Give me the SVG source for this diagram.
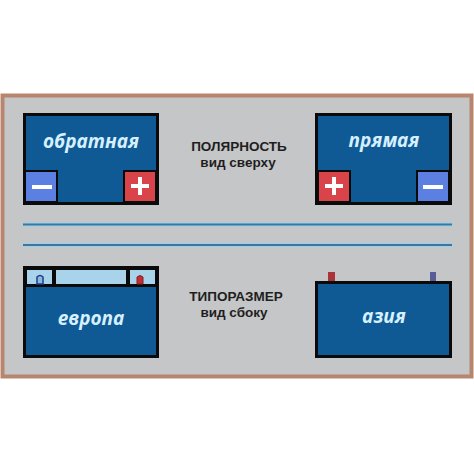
<svg xmlns="http://www.w3.org/2000/svg" width="474" height="474" viewBox="0 0 474 474">
  <style>
    .bat { fill: #0f5a94; stroke: #0a0a0a; stroke-width: 3; }
    .lbl { font-family: "Open Sans", "Liberation Sans", sans-serif; font-weight: bold; font-style: italic; font-size: 19px; fill: #d6f0ff; text-anchor: middle; }
    .cap { font-family: "Liberation Sans", Arial, sans-serif; font-weight: bold; font-size: 13.5px; fill: #1e1e1e; text-anchor: middle; }
    .minus { fill: #5b80e2; stroke: #0a0a0a; stroke-width: 2; }
    .plus { fill: #d9434a; stroke: #0a0a0a; stroke-width: 2; }
    .sign { fill: #ffffff; }
    .sep1 { stroke: #9ad0ea; stroke-width: 4; }
    .sep2 { stroke: #3a78a2; stroke-width: 2; }
    .light { fill: #a9d3ea; }
  </style>
  <rect x="0" y="0" width="474" height="474" fill="#ffffff"/>
  <rect id="panel" x="2.5" y="95.5" width="469" height="281" fill="#c5c6c7" stroke="#b8866f" stroke-width="4"/>

  <g id="obratnaya">
    <rect class="bat" x="24.5" y="114.5" width="133" height="89"/>
    <rect class="minus" x="25" y="171" width="32" height="31"/>
    <rect class="sign" x="32" y="185" width="20" height="4"/>
    <rect class="plus" x="124" y="171" width="32" height="31"/>
    <rect class="sign" x="131" y="184" width="18" height="4"/>
    <rect class="sign" x="138" y="177" width="4" height="18"/>
    <text class="lbl" x="91" y="148">обратная</text>
  </g>

  <g id="pryamaya">
    <rect class="bat" x="316.5" y="114.5" width="134" height="89"/>
    <rect class="plus" x="318" y="171" width="32" height="31"/>
    <rect class="sign" x="325" y="184" width="18" height="4"/>
    <rect class="sign" x="332" y="177" width="4" height="18"/>
    <rect class="minus" x="417" y="171" width="32" height="31"/>
    <rect class="sign" x="423" y="185" width="20" height="4"/>
    <text class="lbl" x="384" y="147">прямая</text>
  </g>

  <g id="polarity-caption">
    <text class="cap" x="239" y="151">ПОЛЯРНОСТЬ</text>
    <text class="cap" x="238" y="166.5">вид сверху</text>
  </g>

  <g id="separators">
    <line class="sep1" x1="23" y1="224.5" x2="452" y2="224.5"/>
    <line class="sep2" x1="23" y1="224.5" x2="452" y2="224.5"/>
    <line class="sep1" x1="23" y1="245" x2="452" y2="245"/>
    <line class="sep2" x1="23" y1="245" x2="452" y2="245"/>
  </g>

  <g id="evropa">
    <rect x="24.5" y="267.5" width="133" height="89" fill="#0a0a0a" stroke="#0a0a0a" stroke-width="3"/>
    <rect class="light" x="27" y="270" width="25" height="14"/>
    <rect class="light" x="56" y="270" width="70" height="14"/>
    <rect class="light" x="130" y="270" width="25" height="14"/>
    <rect x="26" y="287" width="130" height="68" fill="#0f5a94"/>
    <path d="M37 284 V277 Q40 274 43 277 V284 Z" fill="#8fb8dc" stroke="#1d3f8a" stroke-width="1.5"/>
    <path d="M137 284 V277 Q140 274 143 277 V284 Z" fill="#c22f30" stroke="#8a1f22" stroke-width="1"/>
    <text class="lbl" x="91" y="325">европа</text>
  </g>

  <g id="sizing-caption">
    <text class="cap" x="236" y="301">ТИПОРАЗМЕР</text>
    <text class="cap" x="234" y="316.5">вид сбоку</text>
  </g>

  <g id="aziya">
    <rect x="328" y="272" width="7" height="11" fill="#a8343a"/>
    <rect x="430" y="272" width="6" height="11" fill="#5a5c9a"/>
    <rect class="bat" x="316.5" y="282.5" width="134" height="74"/>
    <text class="lbl" x="384" y="323">азия</text>
  </g>
</svg>
